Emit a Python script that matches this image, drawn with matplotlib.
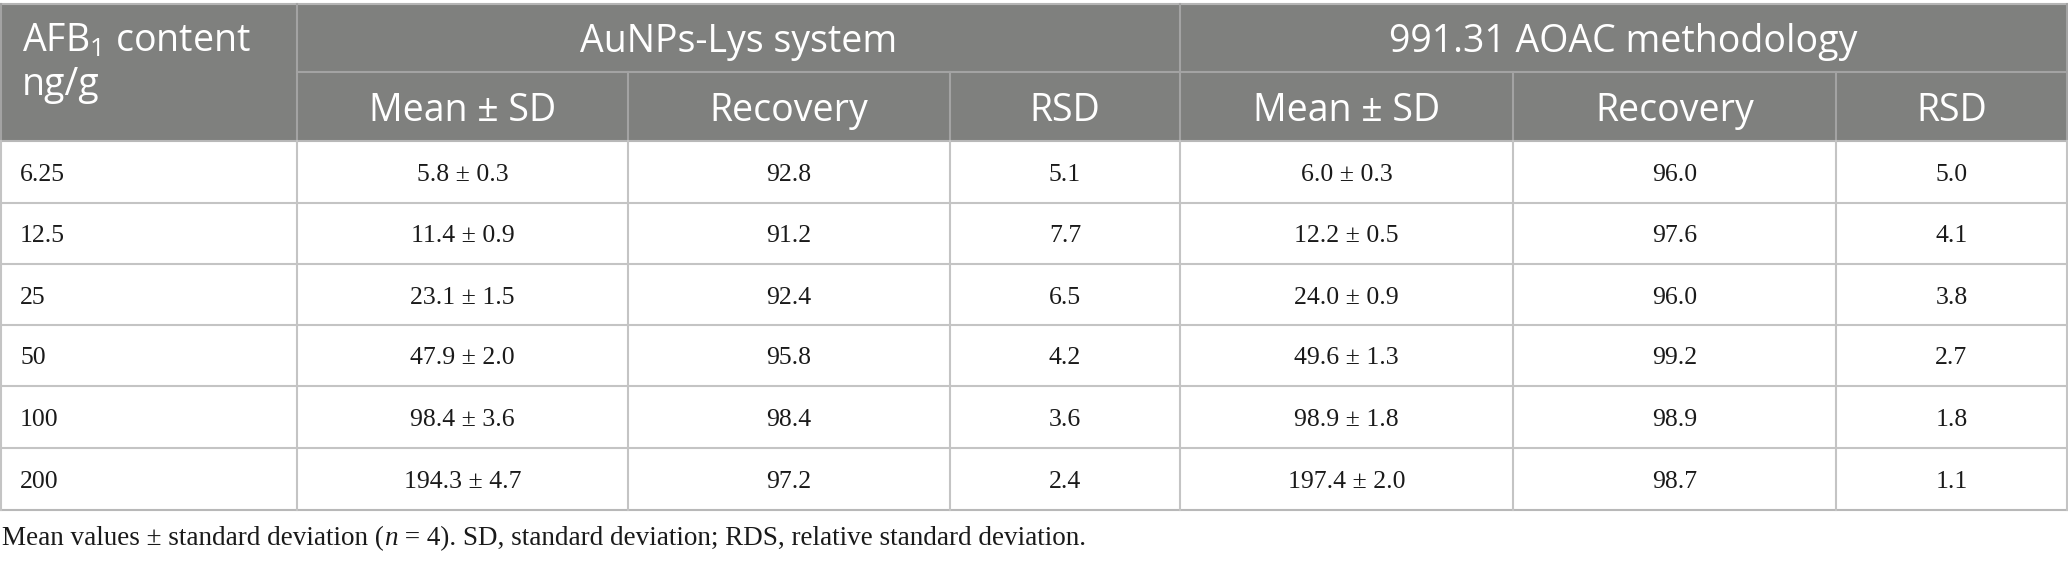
import matplotlib
matplotlib.use("Agg")
import matplotlib.pyplot as plt
from matplotlib.patches import Rectangle

# table values
afb_content = ["6.25", "12.5", "25", "50", "100", "200"]

aunp_mean = [5.8, 11.4, 23.1, 47.9, 98.4, 194.3]
aunp_sd = [0.3, 0.9, 1.5, 2.0, 3.6, 4.7]
aunp_rec = [92.8, 91.2, 92.4, 95.8, 98.4, 97.2]
aunp_rsd = [5.1, 7.7, 6.5, 4.2, 3.6, 2.4]

aoac_mean = [6.0, 12.2, 24.0, 49.6, 98.9, 197.4]
aoac_sd = [0.3, 0.5, 0.9, 1.3, 1.8, 2.0]
aoac_rec = [96.0, 97.6, 96.0, 99.2, 98.9, 98.7]
aoac_rsd = [5.0, 4.1, 3.8, 2.7, 1.8, 1.1]

group_labels = ["AuNPs-Lys system", "991.31 AOAC methodology"]
sub_labels = ["Mean ± SD", "Recovery", "RSD"]
first_header = ["AFB$_{1}$ content", "ng/g"]
footnote_parts = ["Mean values ± standard deviation (", "$n$", " = 4). SD, standard deviation; RDS, relative standard deviation."]

plt.rcParams['mathtext.fontset'] = 'custom'
plt.rcParams['mathtext.rm'] = 'Open Sans'
plt.rcParams['mathtext.it'] = 'Liberation Serif:italic'

W, H = 2068, 562
fig = plt.figure(figsize=(W / 100, H / 100), dpi=100)
ax = fig.add_axes([0, 0, 1, 1])
ax.set_xlim(0, W)
ax.set_ylim(H, 0)
ax.axis('off')

# layout (pixels)
col_x = [1, 297, 628, 950, 1180, 1513, 1836, 2067]
y_top, y_h1, y_h2 = 4, 72, 141
row_y = [141, 203, 264, 325, 386, 448, 510]

head_bg = '#7f807e'
head_line = '#a3a3a3'
body_line = '#c4c4c4'
lw = 1.5

ax.add_patch(Rectangle((col_x[0], y_top), col_x[-1] - col_x[0], y_h2 - y_top,
                       facecolor=head_bg, edgecolor='none', zorder=0))

# horizontal lines
ax.plot([col_x[0], col_x[-1]], [y_top, y_top], color='#b5b5b5', lw=lw)
ax.plot([col_x[1], col_x[-1]], [y_h1, y_h1], color=head_line, lw=lw)
for y in row_y:
    c = '#b8b8b8' if y in (row_y[0], row_y[-1]) else body_line
    ax.plot([col_x[0], col_x[-1]], [y, y], color=c, lw=lw)

# vertical lines
for x in col_x:
    top = y_top if x in (col_x[0], col_x[1], col_x[4], col_x[-1]) else y_h1
    ax.plot([x, x], [top, y_h2], color=head_line, lw=lw)
    ax.plot([x, x], [y_h2, row_y[-1]], color=body_line, lw=lw)

sans = 'Open Sans'
serif = 'Liberation Serif'
hsize = 27
bsize = 18.5
fsize = 19.5

# header text
ax.text(22, 52, first_header[0], color='white', fontsize=hsize, family=sans, va='baseline', ha='left')
ax.text(22, 95, first_header[1], color='white', fontsize=hsize, family=sans, va='baseline', ha='left')
for g, lab in enumerate(group_labels):
    xc = (col_x[1 + 3 * g] + col_x[4 + 3 * g]) / 2
    ax.text(xc, 52, lab, color='white', fontsize=hsize, family=sans, va='baseline', ha='center')
    for k, s in enumerate(sub_labels):
        i = 1 + 3 * g + k
        xc = (col_x[i] + col_x[i + 1]) / 2
        ax.text(xc, 121, s, color='white', fontsize=hsize, family=sans, va='baseline', ha='center')

# body
cols = [
    [f"{m:.1f} ± {s:.1f}" for m, s in zip(aunp_mean, aunp_sd)],
    [f"{v:.1f}" for v in aunp_rec],
    [f"{v:.1f}" for v in aunp_rsd],
    [f"{m:.1f} ± {s:.1f}" for m, s in zip(aoac_mean, aoac_sd)],
    [f"{v:.1f}" for v in aoac_rec],
    [f"{v:.1f}" for v in aoac_rsd],
]
for r in range(len(afb_content)):
    yb = (row_y[r] + row_y[r + 1]) / 2 + 9
    ax.text(20, yb, afb_content[r], color='#1a1a1a', fontsize=bsize, family=serif, va='baseline', ha='left')
    for c, vals in enumerate(cols):
        xc = (col_x[c + 1] + col_x[c + 2]) / 2
        ax.text(xc, yb, vals[r], color='#1a1a1a', fontsize=bsize, family=serif, va='baseline', ha='center')

# footnote, pieced together so n can be italic
fig.canvas.draw()
renderer = fig.canvas.get_renderer()
x = 2
for part in footnote_parts:
    t = ax.text(x, 545, part, color='#1a1a1a', fontsize=fsize, family=serif, va='baseline', ha='left')
    bb = t.get_window_extent(renderer=renderer)
    x += bb.width

fig.savefig('out.png', dpi=100)
